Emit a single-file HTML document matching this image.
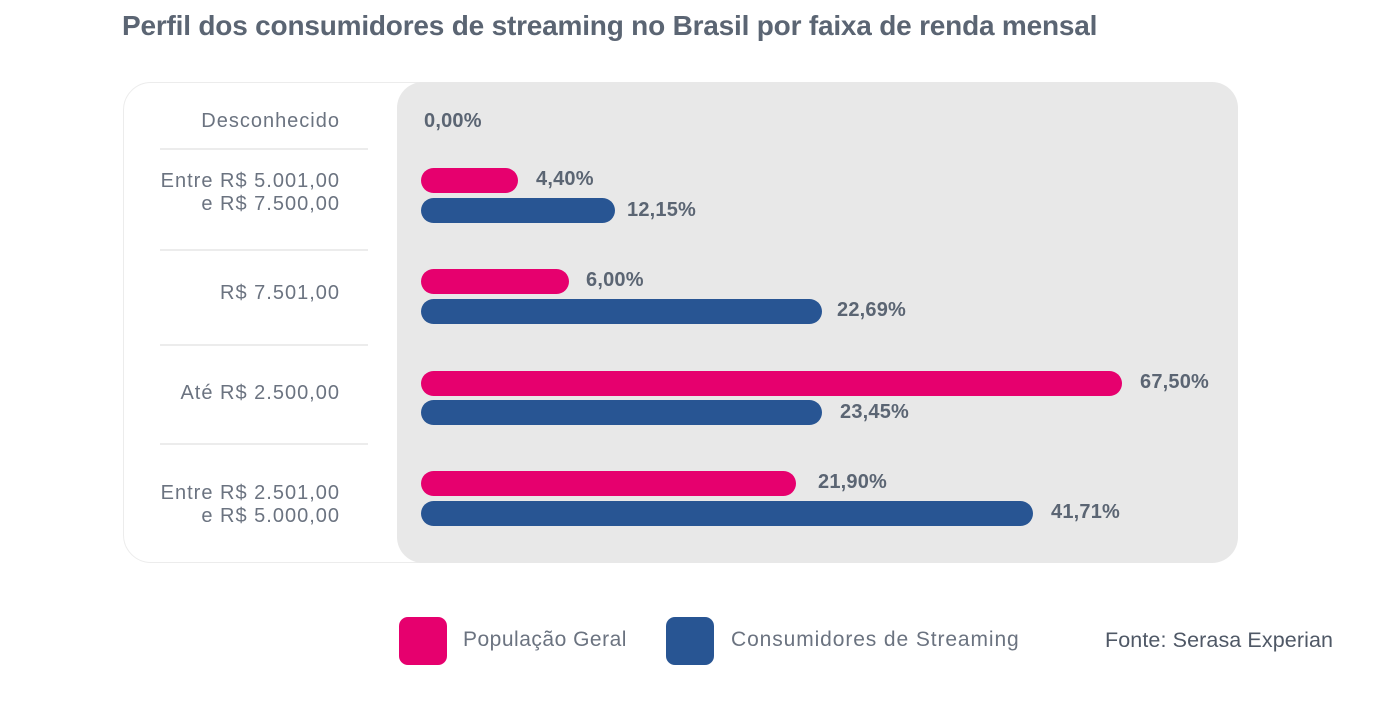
<!DOCTYPE html>
<html><head><meta charset="utf-8"><style>
body{margin:0;width:1379px;height:705px;background:#fff;font-family:"Liberation Sans",sans-serif;position:relative;overflow:hidden}
.a{position:absolute}
.t{left:122px;top:10px;font-size:28px;font-weight:bold;color:#5b6573;letter-spacing:-0.2px;white-space:nowrap}
.card{left:123px;top:82px;width:1000px;height:479px;border:1px solid #ececec;border-radius:28px}
.gray{left:397px;top:82px;width:841px;height:481px;background:#e8e8e8;border-radius:26px}
.lab{right:1039px;color:#6b7380;font-size:20px;text-align:right;line-height:23px;letter-spacing:1px;white-space:nowrap}
.sep{left:160px;width:208px;height:2px;background:#ececec}
.bar{left:421px;height:25px;border-radius:13px}
.p{background:#e6006e}.b{background:#285593}
.v{font-size:20px;font-weight:bold;color:#5b6573;line-height:25px;letter-spacing:0.2px}
.sq{width:48px;height:48px;border-radius:9px;top:617px}
.lg{top:628px;font-size:21px;color:#6b7380;letter-spacing:0.5px;white-space:nowrap}
</style></head><body>
<div class="a t">Perfil dos consumidores de streaming no Brasil por faixa de renda mensal</div>
<div class="a card"></div>
<div class="a gray"></div>
<div class="a lab" style="top:110px">Desconhecido</div>
<div class="a sep" style="top:148px"></div>
<div class="a lab" style="top:170px">Entre R$ 5.001,00<br>e R$ 7.500,00</div>
<div class="a sep" style="top:249px"></div>
<div class="a lab" style="top:282px">R$ 7.501,00</div>
<div class="a sep" style="top:344px"></div>
<div class="a lab" style="top:382px">Até R$ 2.500,00</div>
<div class="a sep" style="top:443px"></div>
<div class="a lab" style="top:482px">Entre R$ 2.501,00<br>e R$ 5.000,00</div>

<div class="a v" style="left:424px;top:109px">0,00%</div>
<div class="a bar p" style="top:168px;width:97px"></div><div class="a v" style="left:536px;top:167px">4,40%</div>
<div class="a bar b" style="top:198px;width:194px"></div><div class="a v" style="left:627px;top:198px">12,15%</div>
<div class="a bar p" style="top:269px;width:148px"></div><div class="a v" style="left:586px;top:268px">6,00%</div>
<div class="a bar b" style="top:299px;width:401px"></div><div class="a v" style="left:837px;top:298px">22,69%</div>
<div class="a bar p" style="top:371px;width:701px"></div><div class="a v" style="left:1140px;top:370px">67,50%</div>
<div class="a bar b" style="top:400px;width:401px"></div><div class="a v" style="left:840px;top:400px">23,45%</div>
<div class="a bar p" style="top:471px;width:375px"></div><div class="a v" style="left:818px;top:470px">21,90%</div>
<div class="a bar b" style="top:501px;width:612px"></div><div class="a v" style="left:1051px;top:500px">41,71%</div>

<div class="a sq p" style="left:399px"></div><div class="a lg" style="left:463px">População Geral</div>
<div class="a sq b" style="left:666px"></div><div class="a lg" style="left:731px;letter-spacing:0.9px">Consumidores de Streaming</div>
<div class="a lg" style="left:1105px;color:#4f5866;font-size:21.5px;letter-spacing:0.1px">Fonte: Serasa Experian</div>
</body></html>
